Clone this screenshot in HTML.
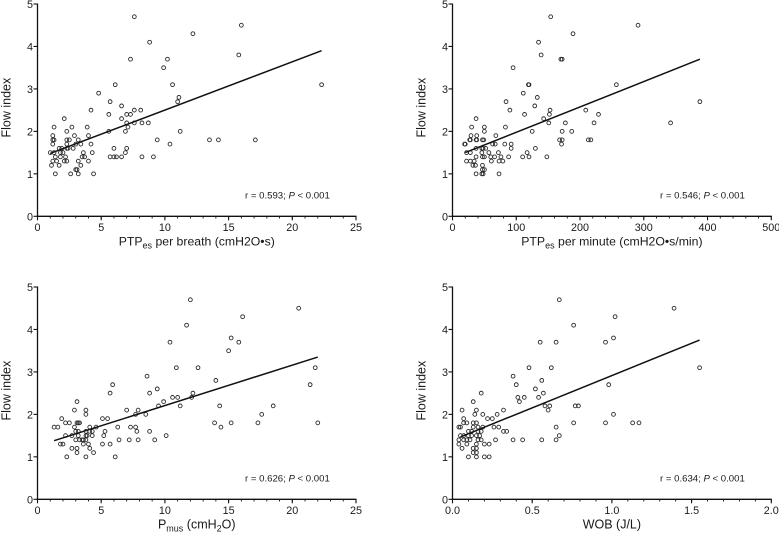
<!DOCTYPE html>
<html>
<head>
<meta charset="utf-8">
<title>Flow index correlations</title>
<style>
html,body{margin:0;padding:0;background:#fff;width:779px;height:533px;overflow:hidden}
svg{display:block;font-family:"Liberation Sans",Arial,sans-serif;fill:#1a1a1a}
</style>
</head>
<body>
<svg id="chart" width="779" height="533" viewBox="0 0 779 533" xmlns="http://www.w3.org/2000/svg"></svg>
<script>
var yTicks = [0, 1, 2, 3, 4, 5];

var p1Ticks = ["0", "5", "10", "15", "20", "25"];
var p1TickValues = [0, 5, 10, 15, 20, 25];
var p1Minor = 1;
var p1Fit = [[1, 22.3], [1.48, 3.9]];
var p1X = [7.6,16,12.2,8.8,15.8,
7.3,10.2,9.9,
6.1,10.6,22.3,
4.8,11.1,5.7,11,6.6,
4.2,7.6,8.1,5.6,7,7.3,
2.1,6.6,
7,7.6,8.2,8.7,
1.3,2.7,3.9,7.1,
2.3,5.6,6.9,11.2,
1.2,2.9,4,
1.2,1.3,2.3,2.5,3.2,9.4,13.5,14.2,17.1,
1.2,2.3,3,3.4,4.2,10.4,
1.7,1.9,2.3,2.4,2.8,6,7,
1,1.3,1.8,2,3.6,4.3,6.9,
1.4,1.8,2.2,3.5,3.7,5.7,6,6.2,6.6,8.2,9.1,
1.2,1.5,2.1,2.3,3.2,4,
1.1,1.7,3.4,
3,3.1,
1.4,2.6,3.2,4.4];
var p1Y = [4.7,4.5,4.3,4.1,3.8,
3.7,3.7,3.5,
3.1,3.1,3.1,
2.9,2.8,2.7,2.7,2.6,
2.5,2.5,2.5,2.4,2.4,2.4,
2.3,2.3,
2.2,2.2,2.2,2.2,
2.1,2.1,2.1,2.1,
2,2,2,2,
1.9,1.9,1.9,
1.8,1.8,1.8,1.8,1.8,1.8,1.8,1.8,1.8,
1.7,1.7,1.7,1.7,1.7,1.7,
1.6,1.6,1.6,1.6,1.6,1.6,1.6,
1.5,1.5,1.5,1.5,1.5,1.5,1.5,
1.4,1.4,1.4,1.4,1.4,1.4,1.4,1.4,1.4,1.4,1.4,
1.3,1.3,1.3,1.3,1.3,1.3,
1.2,1.2,1.2,
1.1,1.1,
1,1,1,1];

var p2Ticks = ["0", "100", "200", "300", "400", "500"];
var p2TickValues = [0, 100, 200, 300, 400, 500];
var p2Minor = 20;
var p2Fit = [[20, 388], [1.5, 3.7]];
var p2X = [154,291,189,135,139,
170,172,95,
119,120,257,
111,133,84,388,129,
90,153,209,113,152,229,
37,143,
151,177,222,342,
30,50,83,
50,125,172,187,
29,38,68,
27,28,37,38,47,49,168,172,213,217,
19,20,63,67,82,92,171,
37,46,48,52,92,130,
22,28,46,57,72,117,
37,47,50,60,66,76,88,110,120,148,
22,28,34,61,73,79,
32,36,47,
47,50,
37,46,48,73];
var p2Y = [4.7,4.5,4.3,4.1,3.8,
3.7,3.7,3.5,
3.1,3.1,3.1,
2.9,2.8,2.7,2.7,2.6,
2.5,2.5,2.5,2.4,2.4,2.4,
2.3,2.3,
2.2,2.2,2.2,2.2,
2.1,2.1,2.1,
2,2,2,2,
1.9,1.9,1.9,
1.8,1.8,1.8,1.8,1.8,1.8,1.8,1.8,1.8,1.8,
1.7,1.7,1.7,1.7,1.7,1.7,1.7,
1.6,1.6,1.6,1.6,1.6,1.6,
1.5,1.5,1.5,1.5,1.5,1.5,
1.4,1.4,1.4,1.4,1.4,1.4,1.4,1.4,1.4,1.4,
1.3,1.3,1.3,1.3,1.3,1.3,
1.2,1.2,1.2,
1.1,1.1,
1,1,1,1];

var p3Ticks = ["0", "5", "10", "15", "20", "25"];
var p3TickValues = [0, 5, 10, 15, 20, 25];
var p3Minor = 1;
var p3Fit = [[1.3, 22], [1.38, 3.35]];
var p3X = [12,20.5,16.1,11.7,15.2,
10.4,15.8,15,
10.9,12.6,21.8,
8.6,14,5.9,21.4,9.4,
5.7,8.8,12.2,10.6,11,12.1,
3.1,9.9,
9.5,11.2,14.3,18.5,
2.9,3.8,7,7.9,
3.8,7.7,8.5,17.6,
1.9,5.1,5.5,
2.2,2.5,3.1,3.2,3.3,13.9,15.2,17.3,22,
1.3,1.6,2.9,4.1,4.6,6.3,7.3,7.7,14.4,
3,3.2,3.8,4.1,4.3,5.3,7.8,8.8,
2.2,2.7,3.2,3.8,3.9,4.3,5.2,10.1,
3,3.3,3.5,3.6,3.8,6.4,7.2,7.9,9.2,
1.8,2,3.6,4,5.1,5.7,
2.7,3.1,4.1,
3.1,4.4,
2.3,3.8,6.1];
var p3Y = [4.7,4.5,4.3,4.1,3.8,
3.7,3.7,3.5,
3.1,3.1,3.1,
2.9,2.8,2.7,2.7,2.6,
2.5,2.5,2.5,2.4,2.4,2.4,
2.3,2.3,
2.2,2.2,2.2,2.2,
2.1,2.1,2.1,2.1,
2,2,2,2,
1.9,1.9,1.9,
1.8,1.8,1.8,1.8,1.8,1.8,1.8,1.8,1.8,
1.7,1.7,1.7,1.7,1.7,1.7,1.7,1.7,1.7,
1.6,1.6,1.6,1.6,1.6,1.6,1.6,1.6,
1.5,1.5,1.5,1.5,1.5,1.5,1.5,1.5,
1.4,1.4,1.4,1.4,1.4,1.4,1.4,1.4,1.4,
1.3,1.3,1.3,1.3,1.3,1.3,
1.2,1.2,1.2,
1.1,1.1,
1,1,1];

var p4Ticks = ["0.0", "0.5", "1.0", "1.5", "2.0"];
var p4TickValues = [0, 0.5, 1, 1.5, 2];
var p4Minor = 0.1;
var p4Fit = [[0.05, 1.55], [1.47, 3.75]];
var p4X = [0.67,1.39,1.02,0.76,1.01,
0.55,0.65,0.96,
0.48,0.62,1.55,
0.38,0.56,0.4,0.98,0.52,
0.18,0.57,0.41,0.45,0.54,
0.13,0.42,
0.58,0.61,0.77,0.79,
0.06,0.15,0.32,0.6,
0.14,0.19,0.28,1.01,
0.07,0.22,0.25,
0.07,0.09,0.13,0.15,0.76,0.96,1.13,1.17,
0.04,0.05,0.13,0.16,0.19,0.26,0.29,0.65,
0.1,0.12,0.16,0.18,0.32,0.34,
0.05,0.07,0.1,0.12,0.15,0.17,0.67,
0.04,0.07,0.09,0.11,0.16,0.18,0.27,0.38,0.44,0.56,0.65,
0.04,0.09,0.15,0.2,0.23,
0.06,0.13,0.15,
0.13,0.15,
0.1,0.15,0.2,0.23];
var p4Y = [4.7,4.5,4.3,4.1,3.8,
3.7,3.7,3.7,
3.1,3.1,3.1,
2.9,2.8,2.7,2.7,2.6,
2.5,2.5,2.4,2.4,2.4,
2.3,2.3,
2.2,2.2,2.2,2.2,
2.1,2.1,2.1,2.1,
2,2,2,2,
1.9,1.9,1.9,
1.8,1.8,1.8,1.8,1.8,1.8,1.8,1.8,
1.7,1.7,1.7,1.7,1.7,1.7,1.7,1.7,
1.6,1.6,1.6,1.6,1.6,1.6,
1.5,1.5,1.5,1.5,1.5,1.5,1.5,
1.4,1.4,1.4,1.4,1.4,1.4,1.4,1.4,1.4,1.4,1.4,
1.3,1.3,1.3,1.3,1.3,
1.2,1.2,1.2,
1.1,1.1,
1,1,1,1];

var svg = document.getElementById('chart');
var NS = 'http://www.w3.org/2000/svg';

function node(tag, attrs, parent) {
  var el = document.createElementNS(NS, tag);
  for (var k in attrs) el.setAttribute(k, attrs[k]);
  parent.appendChild(el);
  return el;
}

function drawPanel(cfg) {
  var g = node('g', {}, svg);
  
  

  var sx = function (v) { return cfg.left + (v / cfg.xMax) * (cfg.right - cfg.left); };
  var sy = function (v) { return cfg.bottom - (v / 5) * (cfg.bottom - cfg.top); };

  var xAxis = node('line', {x1: cfg.left - 0.7, x2: cfg.right + 0.5, y1: cfg.bottom, y2: cfg.bottom, stroke: '#111', 'stroke-width': 1.3}, g);
  
  
  var yAxis = node('line', {x1: cfg.left, x2: cfg.left, y1: cfg.top - 0.5, y2: cfg.bottom, stroke: '#111', 'stroke-width': 1.3}, g);
  
  

  var nMinor = Math.round(cfg.xMax / cfg.minor);
  for (var m = 0; m <= nMinor; m++) {
    var mv = m * cfg.minor;
    var mt = node('line', {x1: sx(mv), x2: sx(mv), y1: cfg.bottom, y2: cfg.bottom + 2.2, stroke: '#111', 'stroke-width': 0.9}, g);
    
    
  }

  cfg.tickValues.forEach(function (v, i) {
    var t = node('line', {x1: sx(v), x2: sx(v), y1: cfg.bottom, y2: cfg.bottom + 4, stroke: '#111', 'stroke-width': 1.1}, g);
    
    
    var lab = node('text', {x: sx(v), y: cfg.bottom + 14.5, 'text-anchor': 'middle', 'font-size': 10.8}, g);
    lab.textContent = cfg.ticks[i];
    
    
  });

  yTicks.forEach(function (v) {
    var t = node('line', {x1: cfg.left - 4, x2: cfg.left, y1: sy(v), y2: sy(v), stroke: '#111', 'stroke-width': 1.1}, g);
    
    
    var lab = node('text', {x: cfg.left - 4.5, y: sy(v) + 4, 'text-anchor': 'end', 'font-size': 10.8}, g);
    lab.textContent = String(v);
    
    
  });

  var yTitle = node('text', {transform: 'translate(' + (cfg.left - 27) + ',' + ((cfg.top + cfg.bottom) / 2 - 2.5) + ') rotate(-90)', 'text-anchor': 'middle', 'font-size': 12.5}, g);
  yTitle.textContent = 'Flow index';
  
  

  var xTitle = node('text', {x: (cfg.left + cfg.right) / 2, y: cfg.bottom + 29, 'text-anchor': 'middle', 'font-size': cfg.titleSize}, g);
  cfg.title.forEach(function (part) {
    var ts = node('tspan', part[1] ? {'font-size': 9, dy: 3} : {dy: part[2] || 0}, xTitle);
    ts.textContent = part[0];
  });
  
  

  for (var i = 0; i < cfg.xs.length; i++) {
    var c = node('circle', {cx: sx(cfg.xs[i]), cy: sy(cfg.ys[i]), r: 1.9, fill: 'none', stroke: '#2a2a2a', 'stroke-width': 0.9}, g);
    
    
  }

  var fit = node('line', {x1: sx(cfg.fit[0][0]), y1: sy(cfg.fit[1][0]), x2: sx(cfg.fit[0][1]), y2: sy(cfg.fit[1][1]), stroke: '#111', 'stroke-width': 1.5}, g);
  
  

  var stat = node('text', {x: cfg.statX, y: cfg.bottom - 17.8, 'font-size': 9.6}, g);
  var a = node('tspan', {}, stat);
  a.textContent = cfg.stat + '; ';
  var b = node('tspan', {'font-style': 'italic'}, stat);
  b.textContent = 'P';
  var d = node('tspan', {}, stat);
  d.textContent = ' < 0.001';
  
  
}

drawPanel({name: 'panel-ptpes-per-breath', left: 37.5, right: 356, top: 4, bottom: 216.3, xMax: 25, minor: p1Minor,
  ticks: p1Ticks, tickValues: p1TickValues, xs: p1X, ys: p1Y, fit: p1Fit, stat: 'r = 0.593', statX: 245, titleSize: 12.25,
  title: [['PTP'], ['es', true], [' per breath (cmH2O•s)', false, -3]]});
drawPanel({name: 'panel-ptpes-per-minute', left: 452.5, right: 771.3, top: 4, bottom: 216.3, xMax: 500, minor: p2Minor,
  ticks: p2Ticks, tickValues: p2TickValues, xs: p2X, ys: p2Y, fit: p2Fit, stat: 'r = 0.546', statX: 660, titleSize: 12.25,
  title: [['PTP'], ['es', true], [' per minute (cmH2O•s/min)', false, -3]]});
drawPanel({name: 'panel-pmus', left: 37.5, right: 356, top: 287, bottom: 499.3, xMax: 25, minor: p3Minor,
  ticks: p3Ticks, tickValues: p3TickValues, xs: p3X, ys: p3Y, fit: p3Fit, stat: 'r = 0.626', statX: 245, titleSize: 12.5,
  title: [['P'], ['mus', true], [' (cmH', false, -3], ['2', true], ['O)', false, -3]]});
drawPanel({name: 'panel-wob', left: 452.5, right: 771.3, top: 287, bottom: 499.3, xMax: 2, minor: p4Minor,
  ticks: p4Ticks, tickValues: p4TickValues, xs: p4X, ys: p4Y, fit: p4Fit, stat: 'r = 0.634', statX: 660, titleSize: 12.5,
  title: [['WOB (J/L)']]});
</script>
</body>
</html>
